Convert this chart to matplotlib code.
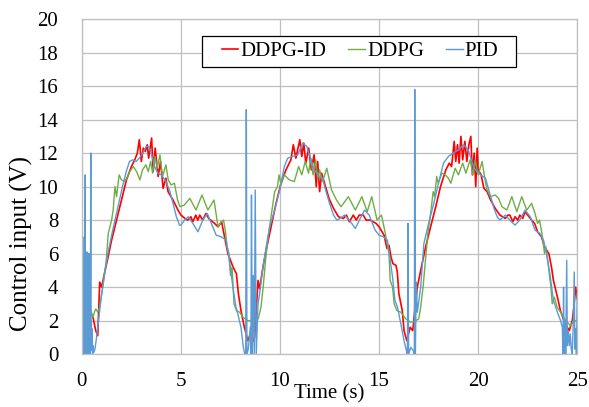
import matplotlib
matplotlib.use("Agg")
import matplotlib.pyplot as plt
from matplotlib.patches import Rectangle

plt.rcParams['font.family'] = ['Liberation Serif', 'DejaVu Serif']

# DDPG-ID (red)
t_ddpg_id = [0.0, 0.2, 0.4, 0.56, 0.7, 0.8, 0.9, 1.0, 1.1, 1.25, 1.5, 1.75, 2.0, 2.25,
             2.5, 2.67, 2.8, 2.9, 3.0, 3.1, 3.2, 3.3, 3.37, 3.52, 3.6, 3.7, 3.85, 3.97,
             4.1, 4.24, 4.35, 4.6, 4.85, 5.0, 5.2, 5.35, 5.5, 5.6, 5.75, 5.85, 5.95, 6.1,
             6.26, 6.4, 6.5, 6.7, 6.87, 7.05, 7.2, 7.37, 7.5, 7.63, 7.8, 7.9, 8.03, 8.2,
             8.38, 8.5, 8.6, 8.72, 8.89, 8.97, 9.14, 9.3, 9.55, 9.8, 10.05, 10.3, 10.55,
             10.67, 10.8, 11.0, 11.1, 11.2, 11.3, 11.45, 11.58, 11.72, 11.83, 11.9, 12.0,
             12.1, 12.3, 12.47, 12.7, 12.95, 13.2, 13.35, 13.5, 13.7, 13.85, 14.0, 14.2,
             14.35, 14.55, 14.7, 14.85, 15.0, 15.25, 15.4, 15.5, 15.6, 15.7, 15.85, 15.92,
             16.0, 16.17, 16.26, 16.4, 16.57, 16.7, 16.8, 16.93, 17.1, 17.35, 17.6, 17.86,
             18.1, 18.37, 18.54, 18.66, 18.79, 18.87, 18.96, 19.04, 19.13, 19.22, 19.33,
             19.43, 19.53, 19.63, 19.71, 19.8, 19.88, 19.95, 20.0, 20.15, 20.29, 20.45,
             20.63, 20.86, 21.1, 21.37, 21.5, 21.6, 21.75, 21.86, 22.0, 22.1, 22.25, 22.37,
             22.5, 22.7, 22.85, 23.0, 23.2, 23.35, 23.57, 23.7, 23.8, 23.88, 24.04, 24.15,
             24.33, 24.5, 24.6, 24.75, 24.83, 24.92, 25.0]
u_ddpg_id = [0.0, 1.5, 2.6, 2.2, 1.4, 1.1, 4.3, 4.0, 4.6, 5.4, 6.8, 8.0, 9.2, 10.4,
             11.2, 11.6, 12.0, 12.8, 11.5, 12.3, 12.1, 12.5, 11.7, 12.9, 10.9, 12.3, 10.6, 11.5,
             9.9, 10.5, 9.7, 9.2, 8.6, 8.3, 8.1, 8.0, 8.2, 7.9, 8.3, 8.0, 8.3, 8.0,
             8.4, 8.1, 8.0, 7.8, 7.6, 7.9, 7.0, 6.0, 5.6, 5.2, 4.8, 3.6, 2.6, 1.6,
             0.8, 1.2, 0.7, 1.0, 4.4, 3.9, 5.2, 6.2, 7.6, 9.0, 10.2, 11.0, 11.6,
             12.5, 11.7, 12.8, 11.8, 12.6, 11.4, 12.3, 11.0, 11.9, 10.0, 11.5, 9.7,
             10.8, 10.0, 9.3, 8.7, 8.2, 8.1, 8.3, 7.9, 8.3, 8.0, 8.3, 8.3,
             8.0, 8.0, 7.9, 7.8, 7.6, 7.1, 6.3, 6.5, 5.8, 5.4, 5.3, 4.9,
             3.6, 2.6, 1.4, 0.8, 1.6, 1.4, 2.6, 4.0, 5.0, 6.4, 7.6, 8.8,
             10.0, 11.0, 11.4, 11.2, 12.7, 11.5, 12.5, 11.4, 13.0, 11.6, 12.7,
             11.5, 12.5, 13.0, 10.7, 12.0, 10.0, 12.3, 11.0, 10.7, 9.9, 9.7,
             9.2, 8.7, 8.3, 8.1, 8.3, 8.3, 7.9, 8.2, 8.0, 8.3, 8.1, 8.5,
             8.3, 8.0, 7.8, 7.3, 7.0, 6.4, 6.0, 5.2, 4.4, 4.0, 3.2, 2.6,
             2.0, 1.6, 1.4, 2.0, 2.8, 4.0, 3.3]

# DDPG (green)
t_ddpg = [0.0, 0.2, 0.4, 0.56, 0.63, 0.7, 0.8, 0.9, 1.0, 1.1, 1.23, 1.33, 1.5, 1.58,
          1.67, 1.75, 1.88, 2.0, 2.17, 2.3, 2.42, 2.59, 2.76, 2.93, 3.06, 3.23, 3.35,
          3.47, 3.57, 3.69, 3.8, 3.94, 4.07, 4.24, 4.36, 4.5, 4.67, 4.83, 4.95, 5.17,
          5.45, 5.76, 6.06, 6.36, 6.67, 6.87, 7.04, 7.15, 7.25, 7.33, 7.42, 7.5, 7.58,
          7.68, 7.8, 7.96, 8.13, 8.38, 8.64, 8.9, 9.04, 9.15, 9.27, 9.4, 9.57, 9.73,
          9.87, 9.95, 10.05, 10.22, 10.47, 10.72, 10.94, 11.1, 11.27, 11.44, 11.55,
          11.67, 11.8, 11.9, 12.0, 12.15, 12.36, 12.6, 12.85, 13.08, 13.45, 13.8,
          14.13, 14.4, 14.63, 14.9, 15.12, 15.3, 15.5, 15.56, 15.68, 15.76, 15.9,
          16.1, 16.35, 16.6, 16.86, 17.0, 17.1, 17.22, 17.34, 17.46, 17.6, 17.73,
          17.8, 17.91, 17.98, 18.17, 18.34, 18.5, 18.62, 18.84, 19.0, 19.22, 19.38,
          19.6, 19.73, 19.85, 20.0, 20.2, 20.35, 20.45, 20.62, 20.86, 21.03, 21.2,
          21.45, 21.7, 21.95, 22.2, 22.45, 22.7, 22.87, 23.0, 23.1, 23.22, 23.35,
          23.42, 23.57, 23.67, 23.74, 23.84, 23.99, 24.16, 24.41, 24.66, 24.83, 25.0]
u_ddpg = [0.5, 1.8, 2.8, 2.2, 2.5, 2.7, 2.5, 2.8, 3.6, 4.4, 5.6, 7.2, 8.0, 8.6,
          10.0, 9.4, 10.7, 10.4, 10.3, 10.6, 10.9, 11.2, 10.9, 10.4, 11.0, 11.3, 10.9,
          11.5, 10.8, 11.8, 11.1, 11.9, 10.6, 11.3, 10.4, 10.1, 10.2, 9.2, 8.8, 8.9,
          9.3, 8.6, 9.5, 8.6, 9.2, 7.6, 7.9, 8.0, 7.3, 6.4, 6.0, 4.7, 5.2,
          3.0, 2.6, 2.5, 2.2, 2.0, 2.0, 2.1, 2.8, 4.0, 5.6, 7.0, 8.4, 9.7,
          10.0, 10.7, 10.1, 10.7, 10.4, 10.3, 11.2, 10.7, 11.5, 10.8, 11.7,
          10.7, 11.6, 10.5, 11.0, 10.3, 11.1, 9.8, 9.2, 8.8, 9.4, 8.6,
          9.4, 8.5, 9.4, 8.0, 8.3, 7.3, 6.0, 4.4, 4.0, 3.0, 2.6,
          2.5, 2.1, 1.9, 2.0, 2.1, 2.8, 4.0, 5.6, 7.2, 8.4, 9.7,
          9.4, 10.6, 10.2, 10.8, 10.7, 10.5, 10.2, 11.1, 10.7, 11.4, 10.8,
          11.6, 10.7, 11.6, 10.7, 11.5, 10.4, 9.8, 9.4, 9.5, 9.3, 8.8,
          8.6, 9.4, 8.5, 9.4, 8.6, 9.0, 8.4, 7.8, 8.0, 7.2, 6.0,
          6.4, 5.0, 4.0, 3.0, 3.4, 2.8, 2.5, 2.0, 1.7, 2.0, 2.0]

# PID (blue)
t_pid = [0.0, 0.01, 0.03, 0.04, 0.05, 0.06, 0.07, 0.08, 0.09, 0.1, 0.11, 0.12, 0.13,
         0.14, 0.15, 0.17, 0.18, 0.19, 0.2, 0.22, 0.23, 0.25, 0.26, 0.27, 0.28, 0.3,
         0.31, 0.33, 0.34, 0.36, 0.37, 0.39, 0.4, 0.42, 0.43, 0.45, 0.46, 0.48, 0.5,
         0.52, 0.54, 0.56, 0.6, 0.66, 0.72,
         0.84, 0.98, 1.1, 1.31, 1.52, 1.73, 1.9, 2.07, 2.24, 2.4, 2.57, 2.74, 2.9,
         3.07, 3.25, 3.37, 3.5, 3.67, 3.84, 4.0, 4.2, 4.42, 4.6, 4.77, 4.93, 5.0,
         5.18, 5.37, 5.6, 5.86, 6.1, 6.33, 6.5, 6.78, 7.04, 7.28, 7.4, 7.53, 7.67,
         7.78, 7.87, 8.03, 8.15, 8.22, 8.27, 8.3, 8.33, 8.4, 8.5, 8.53, 8.56, 8.6,
         8.65, 8.7, 8.75, 8.8, 8.89, 8.97, 9.14, 9.3, 9.48, 9.73, 9.98, 10.05,
         10.22, 10.39, 10.64, 10.9, 11.14, 11.35, 11.57, 11.73, 11.97, 12.15, 12.3,
         12.5, 12.7, 12.87, 13.03, 13.25, 13.5, 13.8, 14.05, 14.27, 14.5, 14.8, 15.0,
         15.22, 15.42, 15.56, 15.68, 15.8, 15.93, 16.1, 16.26, 16.38, 16.43, 16.46,
         16.49, 16.6, 16.73, 16.78, 16.8, 16.83, 16.88, 16.93, 17.1, 17.26, 17.5,
         17.76, 18.0, 18.25, 18.5, 18.75, 19.0, 19.26, 19.5, 19.76, 19.93, 20.12,
         20.37, 20.63, 20.8, 20.96, 21.1, 21.37, 21.6, 21.86, 22.1, 22.37, 22.63,
         22.87, 23.12, 23.3, 23.45, 23.62, 23.8, 24.0, 24.16, 24.25, 24.28, 24.31,
         24.34, 24.38, 24.42, 24.47, 24.5, 24.55, 24.6, 24.65, 24.7, 24.75, 24.8,
         24.85, 24.88, 24.92, 24.96, 25.0]
u_pid = [0.0, 20.0, 0.0, 3.0, 0.2, 2.5, 0.0, 6.0, 0.5, 3.0, 0.0, 7.0, 0.3,
         2.8, 0.0, 10.7, 0.3, 3.2, 0.0, 2.5, 0.2, 6.1, 0.5, 3.0, 0.0, 6.0,
         0.2, 2.8, 0.0, 6.0, 0.3, 2.5, 0.0, 2.0, 0.3, 12.0, 0.2, 2.0, 0.3,
         1.5, 0.0, 0.5, 0.1, 0.3, 0.8,
         2.0, 3.4, 4.4, 6.0, 7.2, 8.3, 9.2, 10.1, 10.9, 11.5, 11.6, 11.5, 11.7,
         12.0, 12.4, 12.4, 12.0, 11.2, 10.8, 10.7, 10.4, 9.8, 9.0, 8.2, 7.7, 7.7,
         8.0, 8.2, 7.8, 7.3, 8.0, 8.4, 7.9, 7.1, 7.0, 6.8, 6.0, 4.8, 3.6,
         2.8, 2.4, 1.6, 0.4, 0.0, 0.0, 14.6, 0.0, 0.3, 1.6, 0.0, 9.5, 0.0,
         4.7, 0.0, 9.8, 0.0, 3.0, 3.6, 5.2, 6.4, 7.6, 8.6, 9.8, 10.2,
         11.2, 11.7, 11.8, 11.9, 12.6, 12.4, 11.6, 11.0, 10.6, 10.5, 9.8,
         9.0, 8.3, 8.0, 8.1, 8.3, 8.0, 7.5, 8.1, 8.6, 8.3, 7.4, 7.1,
         7.0, 6.8, 5.6, 4.6, 3.2, 2.8, 1.8, 0.8, 0.2, 0.0, 7.8,
         0.0, 0.4, 0.2, 0.0, 15.8, 0.0, 4.3, 2.5, 4.0, 6.6, 7.8,
         9.0, 10.2, 11.4, 11.8, 12.0, 12.2, 12.5, 12.2, 11.2, 10.9, 10.7,
         10.5, 9.4, 8.7, 8.2, 8.0, 8.3, 8.0, 7.7, 8.0, 8.6, 8.2,
         7.4, 7.2, 6.8, 6.0, 4.8, 3.2, 2.5, 2.0, 1.6, 0.0, 4.0,
         0.0, 2.0, 0.0, 5.6, 0.5, 1.4, 0.5, 1.2, 0.3, 0.0, 1.8,
         4.9, 0.3, 1.5, 0.0, 3.6]

x_ticks = [0, 5, 10, 15, 20, 25]
y_ticks = [0, 2, 4, 6, 8, 10, 12, 14, 16, 18, 20]

fig = plt.figure(figsize=(5.89, 4.07), dpi=100)
ax = fig.add_axes([0.139, 0.130, 0.841, 0.823])

ax.plot(t_ddpg_id, u_ddpg_id, color='#FF0000', lw=1.2, label='DDPG-ID')
ax.plot(t_ddpg, u_ddpg, color='#70AD47', lw=1.0, label='DDPG')
ax.plot(t_pid, u_pid, color='#5B9BD5', lw=1.0, label='PID')

ax.set_xlim(0, 25)
ax.set_ylim(0, 20)
ax.set_xticks(x_ticks)
ax.set_yticks(y_ticks)
ax.grid(True, color='#BFBFBF', lw=0.9)
ax.set_axisbelow(True)
for s in ax.spines.values():
    s.set_color('#BFBFBF')
    s.set_linewidth(0.9)
ax.tick_params(length=0, labelsize=15)
ax.tick_params(axis='y', pad=17)
ax.tick_params(axis='x', pad=13)

ax.set_xlabel('Time (s)', fontsize=15)
ax.xaxis.set_label_coords(0.5, -0.09)
ax.set_ylabel('Control input (V)', fontsize=18)
ax.yaxis.set_label_coords(-0.098, 0.33)

# legend frame drawn separately (wider than the entries)
frame = Rectangle((202 / 589, 1 - 67 / 407), 314 / 589, 31 / 407,
                  transform=fig.transFigure, facecolor='white',
                  edgecolor='black', lw=0.9, zorder=4.5, clip_on=False)
ax.add_patch(frame)
leg = ax.legend(loc='center', bbox_to_anchor=(360 / 589, 1 - 51.5 / 407),
                bbox_transform=fig.transFigure, ncol=3, fontsize=15,
                handlelength=0.8, handletextpad=0.1, columnspacing=1.05,
                frameon=False, borderpad=0.25)
leg.set_zorder(5)

fig.savefig('out.png', dpi=100)
